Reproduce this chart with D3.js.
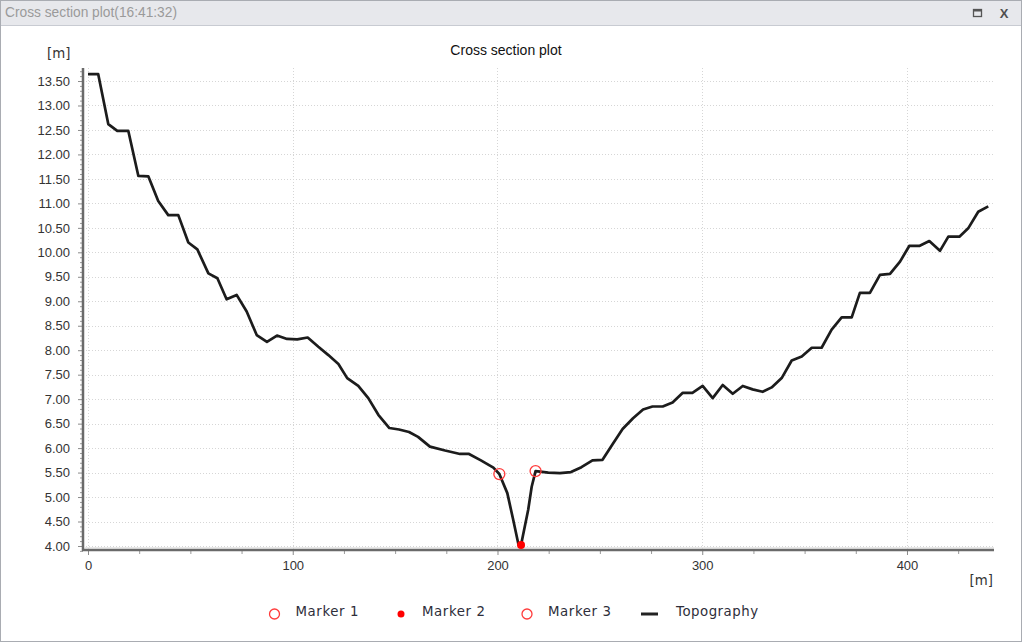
<!DOCTYPE html>
<html>
<head>
<meta charset="utf-8">
<script src="https://cdn.jsdelivr.net/npm/d3@7"></script>
<style>
    body { margin: 0; background: #fff; }
    svg { display: block; }
</style>
</head>
<body>
<div id="chart"></div>
<script>
// topography profile
const distances = [0, 5.0, 9.9, 14.3, 19.7, 24.6, 29.5, 34.3, 39.2, 44.1, 49.0, 53.4, 58.8, 63.2, 67.7,
    72.6, 77.5, 82.4, 87.4, 92.3, 97.2, 102.2, 107.3, 112.5, 117.4, 122.3, 126.6, 132.0, 136.9, 141.8,
    147.2, 151.9, 156.8, 161.2, 167.0, 174.4, 181.7, 186.1, 191.9, 198.0, 200.9, 204.8, 207.7, 210.3, 211.5,
    215.0, 216.7, 218.6, 220.8, 224.8, 230.5, 235.9, 241.0, 246.4, 251.3, 256.2, 261.1, 266.2, 271.1, 275.7,
    280.7, 285.5, 290.5, 295.2, 300.2, 305.1, 310.0, 314.9, 319.8, 324.6, 329.5, 333.9, 338.8, 343.7, 348.6,
    353.5, 358.3, 363.2, 368.1, 373.0, 377.0, 381.9, 386.8, 391.7, 396.6, 401.1, 406.0, 410.9, 416.1, 420.2,
    425.6, 429.9, 434.8, 439.7];
const elevations = [13.64, 13.64, 12.62, 12.48, 12.48, 11.56, 11.55, 11.05, 10.76, 10.76, 10.20, 10.06, 9.57, 9.47, 9.04,
    9.13, 8.79, 8.31, 8.17, 8.30, 8.23, 8.22, 8.26, 8.07, 7.90, 7.72, 7.43, 7.27, 7.02, 6.68,
    6.41, 6.38, 6.33, 6.23, 6.03, 5.95, 5.88, 5.88, 5.75, 5.60, 5.47, 5.08, 4.53, 4.02, 4.02,
    4.74, 5.21, 5.53, 5.52, 5.50, 5.49, 5.51, 5.61, 5.75, 5.76, 6.08, 6.39, 6.61, 6.79, 6.85,
    6.85, 6.93, 7.13, 7.13, 7.27, 7.02, 7.29, 7.11, 7.27, 7.20, 7.15, 7.24, 7.43, 7.79, 7.87,
    8.05, 8.05, 8.42, 8.67, 8.67, 9.17, 9.17, 9.54, 9.56, 9.81, 10.13, 10.13, 10.23, 10.03, 10.32,
    10.32, 10.49, 10.83, 10.94];

const markerNames = ['Marker 1', 'Marker 2', 'Marker 3'];
const markerX = [200.9, 211.5, 218.6];
const markerY = [5.47, 4.02, 5.53];
const markerFilled = [false, true, false];

const xTickValues = [0, 100, 200, 300, 400];
const xMinorTicks = [25, 50, 75, 125, 150, 175, 225, 250, 275, 325, 350, 375, 425];
const yTickValues = [4.0, 4.5, 5.0, 5.5, 6.0, 6.5, 7.0, 7.5, 8.0, 8.5, 9.0, 9.5, 10.0, 10.5, 11.0, 11.5, 12.0, 12.5, 13.0, 13.5];

const windowTitle = 'Cross section plot(16:41:32)';
const chartTitle = 'Cross section plot';
const unitLabel = '[m]';

class CrossSectionChart {

    constructor(_config) {
        this.config = {
            parentElement: _config.parentElement,
            containerWidth: _config.containerWidth || 1023,
            containerHeight: _config.containerHeight || 643,
            margin: _config.margin || { top: 68, right: 29, bottom: 93, left: 83 }
        };
        this.initVis();
    }

    initVis() {
        let vis = this;
        const m = vis.config.margin;
        vis.width = vis.config.containerWidth - m.left - m.right;
        vis.height = vis.config.containerHeight - m.top - m.bottom;

        vis.svg = d3.select(vis.config.parentElement)
            .append('svg')
            .attr('width', vis.config.containerWidth)
            .attr('height', vis.config.containerHeight);

        // window frame
        vis.svg.append('rect')
            .attr('x', 0.5).attr('y', 0.5)
            .attr('width', vis.config.containerWidth - 2)
            .attr('height', vis.config.containerHeight - 2)
            .attr('fill', '#fff')
            .attr('stroke', '#a9acb2');

        vis.svg.append('rect')
            .attr('x', 1).attr('y', 1)
            .attr('width', vis.config.containerWidth - 3)
            .attr('height', 24)
            .attr('fill', '#e7e8ec');

        vis.svg.append('line')
            .attr('x1', 1).attr('x2', vis.config.containerWidth - 2)
            .attr('y1', 25.5).attr('y2', 25.5)
            .attr('stroke', '#c8cbd2');

        vis.svg.append('text')
            .attr('x', 5).attr('y', 17)
            .attr('font-family', '"Liberation Sans Narrow", "Arial Narrow", sans-serif')
            .attr('font-size', 15)
            .attr('fill', '#9a9a9a')
            .attr('textLength', 172)
            .attr('lengthAdjust', 'spacingAndGlyphs')
            .text(windowTitle);

        // little window buttons
        vis.svg.append('rect')
            .attr('x', 973.5).attr('y', 9.5).attr('width', 8).attr('height', 7)
            .attr('fill', 'none').attr('stroke', '#555').attr('stroke-width', 1.3);
        vis.svg.append('line')
            .attr('x1', 973.5).attr('x2', 981.5).attr('y1', 10.5).attr('y2', 10.5)
            .attr('stroke', '#555').attr('stroke-width', 2);
        vis.svg.append('text')
            .attr('x', 1004).attr('y', 18)
            .attr('text-anchor', 'middle')
            .attr('font-family', 'Liberation Sans, Arial, sans-serif')
            .attr('font-size', 13)
            .attr('font-weight', 'bold')
            .attr('fill', '#505050')
            .text('X');

        vis.chart = vis.svg.append('g')
            .attr('transform', `translate(${m.left},${m.top})`);

        vis.xScale = d3.scaleLinear()
            .domain([-2.44, 442.5])
            .range([0, vis.width]);

        vis.yScale = d3.scaleLinear()
            .domain([3.918, 13.766])
            .range([vis.height, 0]);
    }

    renderVis() {
        let vis = this;
        const font = 'Liberation Sans, Arial, sans-serif';

        // dotted grid
        vis.chart.append('g')
            .selectAll('line')
            .data(yTickValues)
            .join('line')
            .attr('x1', 0).attr('x2', vis.width)
            .attr('y1', d => Math.round(vis.yScale(d)) + 0.5)
            .attr('y2', d => Math.round(vis.yScale(d)) + 0.5)
            .attr('stroke', '#d6d6d6')
            .attr('stroke-dasharray', '1,2');

        vis.chart.append('g')
            .selectAll('line')
            .data(xTickValues)
            .join('line')
            .attr('x1', d => Math.round(vis.xScale(d)) + 0.5)
            .attr('x2', d => Math.round(vis.xScale(d)) + 0.5)
            .attr('y1', 0).attr('y2', vis.height)
            .attr('stroke', '#d6d6d6')
            .attr('stroke-dasharray', '1,2');

        // minor ticks
        const yMinor = d3.range(39, 138).map(d => d / 10).filter(d => Math.round(d * 10) % 5 !== 0);
        vis.chart.append('g')
            .call(d3.axisLeft(vis.yScale).tickValues(yMinor).tickSize(3).tickFormat(''))
            .call(g => g.select('.domain').remove())
            .call(g => g.selectAll('line').attr('stroke', '#9a9a9a'));

        vis.chart.append('g')
            .attr('transform', `translate(0,${vis.height})`)
            .call(d3.axisBottom(vis.xScale).tickValues(xMinorTicks).tickSize(4).tickFormat(''))
            .call(g => g.select('.domain').remove())
            .call(g => g.selectAll('line').attr('stroke', '#9a9a9a'));

        // major axes
        const yAxis = d3.axisLeft(vis.yScale)
            .tickValues(yTickValues)
            .tickSize(5)
            .tickPadding(8)
            .tickFormat(d3.format('.2f'));

        vis.chart.append('g')
            .call(yAxis)
            .call(g => g.select('.domain').remove())
            .call(g => g.selectAll('line').attr('stroke', '#8a8a8a'))
            .call(g => g.selectAll('text')
                .attr('font-family', font)
                .attr('font-size', 13)
                .attr('fill', '#333'));

        const xAxis = d3.axisBottom(vis.xScale)
            .tickValues(xTickValues)
            .tickSize(5)
            .tickPadding(6)
            .tickFormat(d3.format('d'));

        vis.chart.append('g')
            .attr('transform', `translate(0,${vis.height})`)
            .call(xAxis)
            .call(g => g.select('.domain').remove())
            .call(g => g.selectAll('line').attr('stroke', '#8a8a8a'))
            .call(g => g.selectAll('text')
                .attr('font-family', font)
                .attr('font-size', 13)
                .attr('fill', '#333'));

        // axis lines (thick, slightly shaded)
        vis.chart.append('line')
            .attr('x1', 0).attr('x2', 0)
            .attr('y1', 0).attr('y2', vis.height + 1)
            .attr('stroke', '#6a6a6a').attr('stroke-width', 2.5);
        vis.chart.append('line')
            .attr('x1', -1).attr('x2', vis.width)
            .attr('y1', vis.height).attr('y2', vis.height)
            .attr('stroke', '#6a6a6a').attr('stroke-width', 2.5);
        vis.chart.append('line')
            .attr('x1', 2).attr('x2', vis.width)
            .attr('y1', vis.height - 2).attr('y2', vis.height - 2)
            .attr('stroke', '#d0d0d0').attr('stroke-width', 1);

        // topography line
        const line = d3.line()
            .x((d, i) => vis.xScale(distances[i]))
            .y(d => vis.yScale(d));

        vis.chart.append('path')
            .datum(elevations)
            .attr('fill', 'none')
            .attr('stroke', '#1c1c1c')
            .attr('stroke-width', 2.7)
            .attr('stroke-linejoin', 'round')
            .attr('d', line);

        // markers
        vis.chart.append('g')
            .selectAll('circle')
            .data(markerNames)
            .join('circle')
            .attr('cx', (d, i) => vis.xScale(markerX[i]))
            .attr('cy', (d, i) => vis.yScale(markerY[i]))
            .attr('r', (d, i) => markerFilled[i] ? 4 : 5.5)
            .attr('fill', (d, i) => markerFilled[i] ? '#ff0000' : 'none')
            .attr('stroke', (d, i) => markerFilled[i] ? 'none' : '#ff3b3b')
            .attr('stroke-width', 1.3);

        // titles and units
        vis.svg.append('text')
            .attr('x', 506).attr('y', 55)
            .attr('text-anchor', 'middle')
            .attr('font-family', font)
            .attr('font-size', 14)
            .attr('fill', '#111')
            .text(chartTitle);

        vis.svg.append('text')
            .attr('x', 47).attr('y', 58)
            .attr('font-family', 'DejaVu Sans, Verdana, sans-serif')
            .attr('font-size', 13.33)
            .attr('fill', '#333')
            .text(unitLabel);

        vis.svg.append('text')
            .attr('x', 993).attr('y', 585)
            .attr('text-anchor', 'end')
            .attr('font-family', 'DejaVu Sans, Verdana, sans-serif')
            .attr('font-size', 13.33)
            .attr('fill', '#333')
            .text(unitLabel);

        // legend
        const legendX = [274.5, 401, 527];
        const legendY = 614;
        const legend = vis.svg.append('g');

        legend.selectAll('circle')
            .data(markerNames)
            .join('circle')
            .attr('cx', (d, i) => legendX[i])
            .attr('cy', legendY)
            .attr('r', (d, i) => markerFilled[i] ? 3.5 : 5)
            .attr('fill', (d, i) => markerFilled[i] ? '#ff0000' : 'none')
            .attr('stroke', (d, i) => markerFilled[i] ? 'none' : '#ff3b3b')
            .attr('stroke-width', 1.3);

        legend.selectAll('text.mk')
            .data(markerNames)
            .join('text')
            .attr('class', 'mk')
            .attr('x', (d, i) => legendX[i] + 21)
            .attr('y', legendY + 2)
            .attr('font-family', 'DejaVu Sans, Verdana, sans-serif')
            .attr('font-size', 13.33)
            .attr('letter-spacing', 0.6)
            .attr('fill', '#2e2e3a')
            .text(d => d);

        legend.append('line')
            .attr('x1', 641).attr('x2', 658)
            .attr('y1', legendY).attr('y2', legendY)
            .attr('stroke', '#222').attr('stroke-width', 3);

        legend.append('text')
            .attr('x', 676)
            .attr('y', legendY + 2)
            .attr('font-family', 'DejaVu Sans, Verdana, sans-serif')
            .attr('font-size', 13.33)
            .attr('letter-spacing', 0.5)
            .attr('fill', '#2e2e3a')
            .text('Topography');
    }
}

const chart = new CrossSectionChart({ parentElement: '#chart' });
chart.renderVis();
</script>
</body>
</html>
